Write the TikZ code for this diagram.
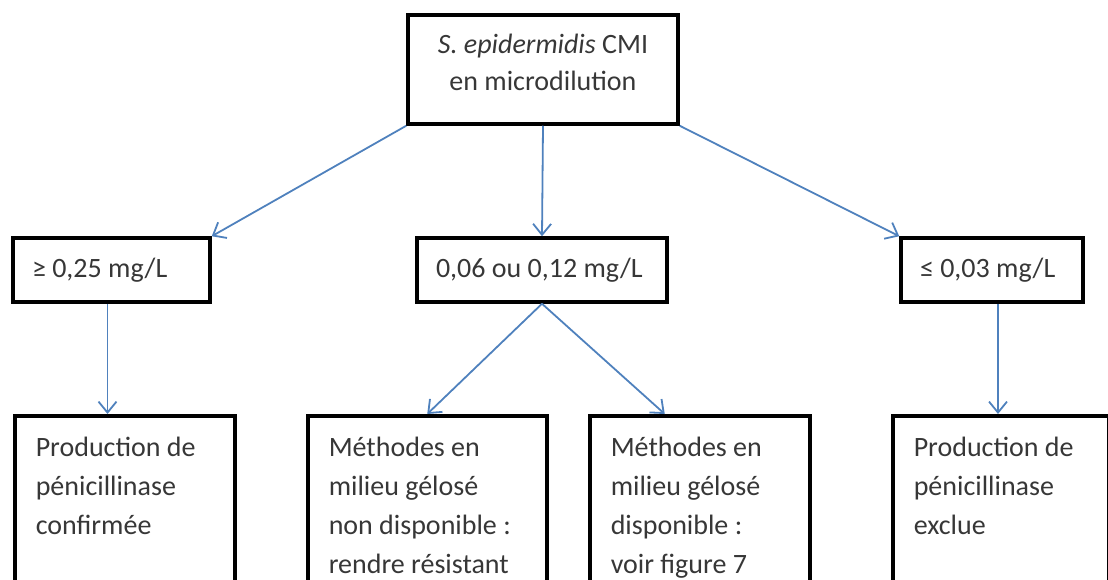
\documentclass[tikz,border=0pt]{standalone}
\usepackage{fontspec}
\setmainfont{Carlito}
\usetikzlibrary{arrows.meta}
\definecolor{linkblue}{RGB}{79,129,189}
\definecolor{txtgrey}{RGB}{55,55,55}
\tikzstyle{box} = [rectangle, draw=black, line width=3.5pt, text=txtgrey, inner sep=0pt]
\tikzstyle{root} = [box, minimum width=270pt, minimum height=109pt, align=flush center, font=\fontsize{28}{37}\selectfont]
\tikzstyle{threshold} = [box, minimum height=64pt, inner xsep=19pt, align=flush left, font=\fontsize{28}{34}\selectfont]
\tikzstyle{outcome} = [box, anchor=north west, inner xsep=21pt, inner ysep=21pt, align=flush left, font=\fontsize{28}{39}\selectfont]
\tikzstyle{arrow} = [line width=1.8pt, draw=linkblue, -{Straight Barb[length=11pt, width=18pt]}]

\begin{document}
\begin{tikzpicture}[x=1pt, y=-1pt]
	\useasboundingbox (0,0) rectangle (1108,580);
	\clip (0,0) rectangle (1108,580);
	\node (cmi) [root] at (543,69.5) {\textit{S. epidermidis} CMI\\en microdilution\rule[-15pt]{0pt}{15pt}};
	
	\node (high) [threshold, text width=159pt] at (111.5,270) {≥ 0,25 mg/L};
	\node (mid) [threshold, text width=212pt] at (542,270) {0,06 ou 0,12 mg/L};
	\node (low) [threshold, text width=144pt] at (992,270) {≤ 0,03 mg/L};
	
	\node (confirm) [outcome, text width=178pt] at (13,414) {Production de\\pénicillinase\\confirmée\\\mbox{}};
	\node (nondispo) [outcome, text width=197pt] at (306,414) {Méthodes en\\milieu gélosé\\non disponible :\\rendre résistant};
	\node (dispo) [outcome, text width=178pt] at (588,414) {Méthodes en\\milieu gélosé\\disponible :\\voir figure 7};
	\node (exclue) [outcome, text width=174pt] at (891,414) {Production de\\pénicillinase\\exclue\\\mbox{}};
	
	\draw [arrow] (cmi.south west) -- (high.north east);
	\draw [arrow] (cmi.south) -- (mid.north);
	\draw [arrow] (cmi.south east) -- (low.north west);
	
	\draw [arrow] ([xshift=-4pt]high.south) -- ([xshift=-4pt]high.south |- confirm.north);
	\draw [arrow] (mid.south) -- (nondispo.north);
	\draw [arrow] (mid.south) -- ([xshift=-35pt]dispo.north);
	\draw [arrow] ([xshift=6pt]low.south) -- ([xshift=6pt]low.south |- exclue.north);
\end{tikzpicture}
\end{document}
